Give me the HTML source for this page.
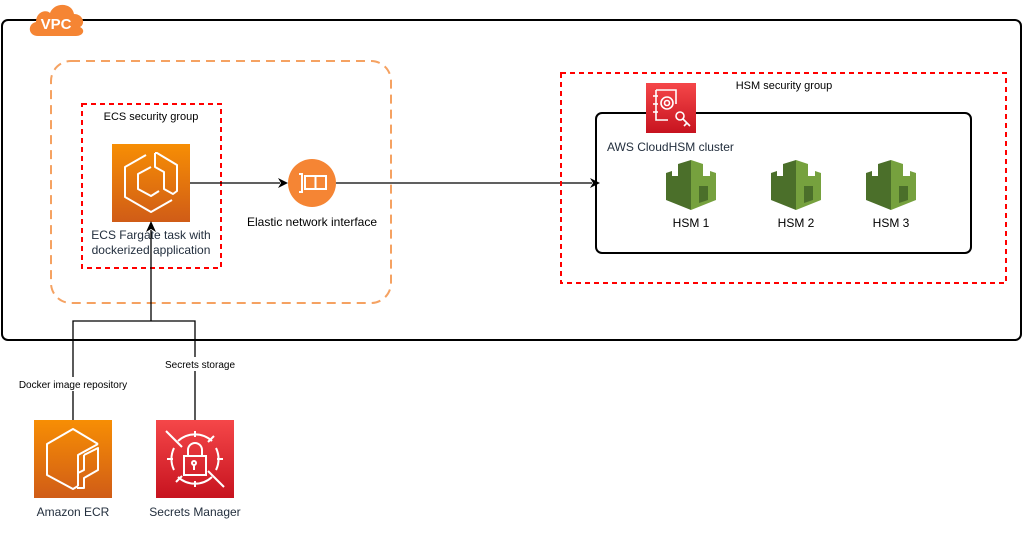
<!DOCTYPE html>
<html><head><meta charset="utf-8"><style>
html,body{margin:0;padding:0;background:#fff;}
svg{display:block;font-family:"Liberation Sans",Arial,sans-serif;}
</style></head><body>
<svg width="1022" height="535" viewBox="0 0 1022 535" xmlns="http://www.w3.org/2000/svg">
<defs>
<linearGradient id="og" x1="0" y1="0" x2="0" y2="1"><stop offset="0" stop-color="#f78e04"/><stop offset="1" stop-color="#d05c17"/></linearGradient>
<linearGradient id="rg" x1="0" y1="0" x2="0" y2="1"><stop offset="0" stop-color="#f54749"/><stop offset="1" stop-color="#c7131f"/></linearGradient>
<g id="hsm">
<polygon points="0,13 6,11 6,16 12,16 12,4 25,0 25,50 0,40" fill="#4b6f2a"/>
<polygon points="25,0 37,4 37,16 44,16 44,11 50,13 50,40 25,50" fill="#76a13e"/>
<polygon points="33,26 42,26 42,40 33,43" fill="#4b6f2a"/>
</g>
</defs>
<!-- VPC -->
<rect x="2" y="20" width="1019" height="320" rx="6" fill="none" stroke="#000" stroke-width="2"/>
<path d="M38,36 C28,36 27,24 36,22 C36,12 46,9 50,13 C54,2 72,2 74,14 C83,14 86,24 80,27 C86,30 83,36 76,36 Z" fill="#f58534"/>
<text x="56" y="29" font-size="15" font-weight="bold" fill="#fff" text-anchor="middle">VPC</text>
<!-- orange dashed -->
<rect x="51" y="61" width="340" height="242" rx="20" fill="none" stroke="#f5a262" stroke-width="2" stroke-dasharray="9,6"/>
<!-- ECS SG -->
<rect x="82" y="104" width="139" height="164" fill="none" stroke="#f00" stroke-width="2" stroke-dasharray="5,4"/>
<text x="151" y="120" font-size="11" text-anchor="middle" fill="#000">ECS security group</text>
<rect x="112" y="144" width="78" height="78" fill="url(#og)"/>
<g fill="none" stroke="#fff" stroke-width="2" stroke-linejoin="round">
<polyline points="146,155 125,167 125,197 151,212 172,200"/>
<polyline points="155,153 155,167 164,172 164,189 173,194 177,191 177,165 157,153 155,153"/>
<polyline points="159,191 151,196 138,189 138,174 151,167"/>
</g>
<text x="151" y="239" font-size="12" text-anchor="middle" fill="#232f3e">ECS Fargate task with</text>
<text x="151" y="254" font-size="12" text-anchor="middle" fill="#232f3e">dockerized application</text>
<!-- ENI -->
<line x1="190" y1="183" x2="280" y2="183" stroke="#000" stroke-width="1.3"/>
<polygon points="288,183 278,178 281,183 278,188" fill="#000"/>
<circle cx="312" cy="183" r="24" fill="#f58534"/>
<g fill="none" stroke="#fff" stroke-width="2"><path d="M299,174 h3 v18 h-3"/><rect x="305" y="176" width="21" height="13"/><line x1="315.5" y1="176" x2="315.5" y2="189"/></g>
<text x="312" y="226" font-size="12" text-anchor="middle" fill="#000">Elastic network interface</text>
<line x1="336" y1="183" x2="592" y2="183" stroke="#000" stroke-width="1.3"/>
<polygon points="600,183 590,178 593,183 590,188" fill="#000"/>
<!-- HSM SG -->
<rect x="561" y="73" width="445" height="210" fill="none" stroke="#f00" stroke-width="2" stroke-dasharray="5,4"/>
<text x="784" y="89" font-size="11" text-anchor="middle" fill="#000">HSM security group</text>
<rect x="596" y="113" width="375" height="140" rx="6" fill="none" stroke="#000" stroke-width="2"/>
<rect x="646" y="83" width="50" height="50" fill="url(#rg)"/>
<g fill="none" stroke="#fff" stroke-width="1.6"><path d="M656,90 h20 v14 M656,90 v30 h12"/><line x1="653" y1="96" x2="658" y2="96"/><line x1="653" y1="104" x2="658" y2="104"/><line x1="653" y1="112" x2="658" y2="112"/><circle cx="667" cy="103" r="6"/><circle cx="667" cy="103" r="2.5"/><circle cx="680" cy="116" r="4"/><line x1="683" y1="119" x2="690" y2="126"/><line x1="687" y1="123" x2="684" y2="126"/></g>
<text x="607" y="151" font-size="12" fill="#232f3e">AWS CloudHSM cluster</text>
<use href="#hsm" x="666" y="160"/>
<use href="#hsm" x="771" y="160"/>
<use href="#hsm" x="866" y="160"/>
<text x="691" y="227" font-size="12" text-anchor="middle">HSM 1</text>
<text x="796" y="227" font-size="12" text-anchor="middle">HSM 2</text>
<text x="891" y="227" font-size="12" text-anchor="middle">HSM 3</text>
<!-- bottom connectors -->
<polyline points="73,420 73,321 195,321 195,420" fill="none" stroke="#000" stroke-width="1.3"/>
<line x1="151" y1="321" x2="151" y2="230" stroke="#000" stroke-width="1.3"/>
<polygon points="151,221 146,232 151,229 156,232" fill="#000"/>
<rect x="14" y="377" width="118" height="14" fill="#fff"/>
<text x="73" y="388" font-size="10" text-anchor="middle">Docker image repository</text>
<rect x="160" y="357" width="80" height="14" fill="#fff"/>
<text x="200" y="368" font-size="10" text-anchor="middle">Secrets storage</text>
<!-- ECR -->
<rect x="34" y="420" width="78" height="78" fill="url(#og)"/>
<g fill="none" stroke="#fff" stroke-width="2" stroke-linejoin="round"><polyline points="98,444 73,429 47,444 47,475 73,489 78,486"/><polyline points="98,444 78,455 78,486"/><polyline points="84,455 98,448 98,470 84,478 84,488 77,488"/><polyline points="84,455 84,470 78,473"/></g>
<text x="73" y="516" font-size="12" text-anchor="middle" fill="#232f3e">Amazon ECR</text>
<!-- Secrets -->
<rect x="156" y="420" width="78" height="78" fill="url(#rg)"/>
<g fill="none" stroke="#fff" stroke-width="2"><path d="M178,441 A25,25 0 0 1 212,441 M216,448 A25,25 0 0 1 216,470 M212,477 A25,25 0 0 1 178,477 M174,470 A25,25 0 0 1 174,448"/><line x1="195" y1="431" x2="195" y2="437"/><line x1="195" y1="481" x2="195" y2="487"/><line x1="167" y1="459" x2="173" y2="459"/><line x1="217" y1="459" x2="223" y2="459"/><line x1="166" y1="431" x2="182" y2="447"/><line x1="208" y1="471" x2="224" y2="487"/><line x1="214" y1="436" x2="208" y2="442"/><line x1="176" y1="482" x2="182" y2="476"/><rect x="184" y="456" width="22" height="19"/><path d="M188,456 v-6 a7,7 0 0 1 14,0 v6"/><circle cx="194" cy="463" r="2"/><line x1="194" y1="465" x2="194" y2="470"/></g>
<text x="195" y="516" font-size="12" text-anchor="middle" fill="#232f3e">Secrets Manager</text>
</svg>
</body></html>
